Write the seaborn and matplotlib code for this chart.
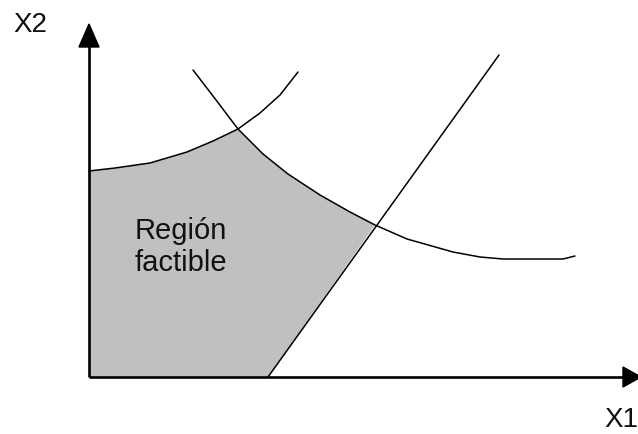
import numpy as np
import pandas as pd
import matplotlib
matplotlib.use("Agg")
import matplotlib.pyplot as plt
import seaborn as sns

# ---- data (X1, X2 in plot units, origin at the axes corner) ----
curve1_x = [0, 26, 61, 98, 124, 149, 171, 191, 209]
curve1_y = [206, 209, 214, 225, 236, 248, 264, 282, 305]

curve2_x = [104, 124, 149, 174, 199, 231, 261, 286, 318, 364, 391, 414, 474, 486]
curve2_y = [307, 281, 248, 223, 203, 182, 165, 152, 138, 125, 120, 118, 118, 121]

line3_x = [179, 410]
line3_y = [0, 322]

# feasible region vertices (from curves above up to their intersections)
region_x = [0] + curve1_x[:6] + curve2_x[3:8] + [179]
region_y = [0] + curve1_y[:6] + curve2_y[3:8] + [0]

label_region = "Región\nfactible"
label_x1 = "X1"
label_x2 = "X2"

sns.set_theme(style="white")
plt.rcParams['font.family'] = ['Liberation Sans', 'DejaVu Sans']

fig = plt.figure(figsize=(6.38, 4.34), dpi=100)
ax = fig.add_axes([0, 0, 1, 1])
ax.set_xlim(-89, 549)
ax.set_ylim(-57, 377)
ax.axis("off")

# shaded region
ax.fill(region_x, region_y, color="#C0C0C0", lw=0, zorder=1)

df1 = pd.DataFrame({"x": curve1_x, "y": curve1_y})
df2 = pd.DataFrame({"x": curve2_x, "y": curve2_y})
df3 = pd.DataFrame({"x": line3_x, "y": line3_y})
for d in (df1, df2, df3):
    sns.lineplot(data=d, x="x", y="y", sort=False, estimator=None,
                 color="black", lw=1.1, ax=ax, zorder=3)

# axes with arrows
ax.plot([0, 0], [0, 332], color="black", lw=1.9, zorder=4, solid_capstyle="butt")
ax.plot([0, 536], [0, 0], color="black", lw=1.9, zorder=4, solid_capstyle="butt")
ax.fill([-10, 10, 0], [330, 330, 353], color="black", zorder=5)
ax.fill([534, 534, 552], [10, -10, 0], color="black", zorder=5)

ax.text(-59, 352, label_x2, fontsize=20, ha="center", va="center", color="#111111")
ax.text(532, -43, label_x1, fontsize=20, ha="center", va="center", color="#111111")
ax.text(92, 130, label_region, fontsize=21, ha="center", va="center",
        linespacing=1.2, color="#111111", zorder=6)

fig.savefig("out.png", dpi=100)
